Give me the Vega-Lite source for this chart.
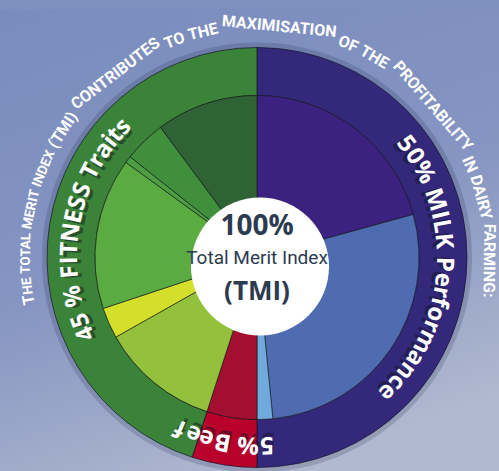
{
  "$schema": "https://vega.github.io/schema/vega-lite/v6.json",
  "autosize": {"type": "fit", "contains": "padding"},
  "width": 499,
  "height": 471,
  "padding": {"left": 0, "top": 0, "right": -15, "bottom": -35},
  "background": "#7d90be",
  "config": {"view": {"stroke": null}},
  "datasets": {
    "outer": [
      {"part": "MILK Performance", "value": 50, "k": 1},
      {"part": "Beef", "value": 5, "k": 2},
      {"part": "FITNESS Traits", "value": 45, "k": 3}
    ],
    "inner": [
      {"trait": "Milk 1", "value": 20.72, "k": 1},
      {"trait": "Milk 2", "value": 27.72, "k": 2},
      {"trait": "Milk 3", "value": 1.56, "k": 3},
      {"trait": "Beef", "value": 5, "k": 4},
      {"trait": "Fitness 1", "value": 11.83, "k": 5},
      {"trait": "Fitness 2", "value": 3.08, "k": 6},
      {"trait": "Fitness 3", "value": 15.08, "k": 7},
      {"trait": "Fitness 4", "value": 0.69, "k": 8},
      {"trait": "Fitness 5", "value": 4.17, "k": 9},
      {"trait": "Fitness 6", "value": 10.15, "k": 10}
    ],
    "whole": [{"value": 100}],
    "titleSmall": [
      {"w": "HE", "pos": 73.03},
      {"w": "TOTAL", "pos": 75.29},
      {"w": "MERIT", "pos": 78.34},
      {"w": "INDEX", "pos": 81.28}
    ],
    "titleLarge": [
      {"w": "T", "pos": 72.09},
      {"w": "(TMI)", "pos": 84.25},
      {"w": "CONTRIBUTES", "pos": 89.57},
      {"w": "TO", "pos": 94.23},
      {"w": "THE", "pos": 96.27},
      {"w": "MAXIMISATION", "pos": 1.525},
      {"w": "OF", "pos": 6.42},
      {"w": "THE", "pos": 8.43},
      {"w": "PROFITABILITY", "pos": 13.68},
      {"w": "IN", "pos": 18.44},
      {"w": "DAIRY", "pos": 20.83},
      {"w": "FARMING:", "pos": 25.22}
    ],
    "ring": [
      {"c": "5", "pos": 14.65}, {"c": "0", "pos": 15.91}, {"c": "%", "pos": 17.5},
      {"c": "M", "pos": 20.02}, {"c": "I", "pos": 21.38}, {"c": "L", "pos": 22.32}, {"c": "K", "pos": 23.6},
      {"c": "P", "pos": 25.58}, {"c": "e", "pos": 26.9}, {"c": "r", "pos": 27.96}, {"c": "f", "pos": 28.82},
      {"c": "o", "pos": 29.88}, {"c": "r", "pos": 30.99}, {"c": "m", "pos": 32.43}, {"c": "a", "pos": 34.04},
      {"c": "n", "pos": 35.36}, {"c": "c", "pos": 36.59}, {"c": "e", "pos": 37.75},
      {"c": "5", "pos": 49.17}, {"c": "%", "pos": 50.75}, {"c": "B", "pos": 52.92}, {"c": "e", "pos": 54.36},
      {"c": "e", "pos": 55.5}, {"c": "f", "pos": 56.72},
      {"c": "4", "pos": 68.36}, {"c": "5", "pos": 69.58}, {"c": "%", "pos": 71.69},
      {"c": "F", "pos": 73.79}, {"c": "I", "pos": 74.76}, {"c": "T", "pos": 75.72}, {"c": "N", "pos": 77.13},
      {"c": "E", "pos": 78.52}, {"c": "S", "pos": 79.7}, {"c": "S", "pos": 80.88},
      {"c": "T", "pos": 82.63}, {"c": "r", "pos": 83.68}, {"c": "a", "pos": 84.73}, {"c": "i", "pos": 85.64},
      {"c": "t", "pos": 86.37}, {"c": "s", "pos": 87.31}
    ],
    "centre": [{"t": "100%"}],
    "centre2": [{"t": "Total Merit Index"}],
    "centre3": [{"t": "(TMI)"}]
  },
  "resolve": {"scale": {"color": "independent"}},
  "layer": [
    {
      "data": {"name": "whole"},
      "mark": {"type": "rect", "color": {"gradient": "linear", "x1": 0, "y1": 0, "x2": 0.35, "y2": 1,
        "stops": [{"offset": 0, "color": "#798cbc"}, {"offset": 0.55, "color": "#8695c2"}, {"offset": 1, "color": "#b0b9cf"}]}},
      "encoding": {}
    },
    {
      "data": {"name": "whole"},
      "mark": {"type": "arc", "radius": 215, "fill": "#1c2448", "opacity": 0.18},
      "encoding": {"theta": {"field": "value", "type": "quantitative", "stack": true, "scale": {"domain": [0, 100]}}}
    },
    {
      "data": {"name": "outer"},
      "mark": {"type": "arc", "radius": 210, "radius2": 162, "stroke": "#15152a", "strokeWidth": 0.7},
      "encoding": {
        "theta": {"field": "value", "type": "quantitative", "stack": true, "scale": {"domain": [0, 100]}},
        "order": {"field": "k", "type": "quantitative"},
        "color": {"field": "part", "type": "nominal", "legend": null,
          "scale": {"domain": ["MILK Performance", "Beef", "FITNESS Traits"], "range": ["#33287a", "#b8022c", "#3b8339"]}}
      }
    },
    {
      "data": {"name": "inner"},
      "mark": {"type": "arc", "radius": 162, "stroke": "#141414", "strokeWidth": 0.6},
      "encoding": {
        "theta": {"field": "value", "type": "quantitative", "stack": true, "scale": {"domain": [0, 100]}},
        "order": {"field": "k", "type": "quantitative"},
        "color": {"field": "trait", "type": "nominal", "legend": null,
          "scale": {"domain": ["Milk 1", "Milk 2", "Milk 3", "Beef", "Fitness 1", "Fitness 2", "Fitness 3", "Fitness 4", "Fitness 5", "Fitness 6"],
            "range": ["#3c2280", "#4f6cb1", "#70aadd", "#a20f30", "#93c13c", "#d3df2b", "#5bab43", "#4b9f42", "#3f8f3d", "#2f6335"]}}
      }
    },
    {
      "data": {"name": "whole"},
      "mark": {"type": "arc", "radius": 69, "fill": "#ffffff", "xOffset": 3, "yOffset": 9},
      "encoding": {"theta": {"field": "value", "type": "quantitative", "stack": true, "scale": {"domain": [0, 100]}}}
    },
    {
      "data": {"name": "centre"},
      "mark": {"type": "text", "font": "Open Sans", "fontWeight": "bold", "fontSize": 28, "fill": "#2c3b50", "align": "center", "baseline": "middle", "dy": -31},
      "encoding": {"text": {"field": "t"}}
    },
    {
      "data": {"name": "centre2"},
      "mark": {"type": "text", "font": "Roboto", "fontSize": 19, "fill": "#2c3b50", "align": "center", "baseline": "middle", "dy": 0},
      "encoding": {"text": {"field": "t"}}
    },
    {
      "data": {"name": "centre3"},
      "mark": {"type": "text", "font": "Open Sans", "fontWeight": "bold", "fontSize": 26, "fill": "#2c3b50", "align": "center", "baseline": "middle", "dy": 34},
      "encoding": {"text": {"field": "t"}}
    },
    {
      "data": {"name": "titleSmall"},
      "mark": {"type": "text", "radius": 231, "font": "Roboto", "fontWeight": "bold", "fontSize": 13.5, "fill": "#ffffff", "align": "center", "baseline": "middle"},
      "encoding": {
        "text": {"field": "w"},
        "theta": {"field": "pos", "type": "quantitative", "stack": null, "scale": {"domain": [0, 100]}},
        "angle": {"field": "pos", "type": "quantitative", "scale": {"domain": [0, 100], "range": [0, 360]}, "legend": null}
      }
    },
    {
      "data": {"name": "titleLarge"},
      "mark": {"type": "text", "radius": 232, "font": "Roboto", "fontWeight": "bold", "fontSize": 16, "fill": "#ffffff", "align": "center", "baseline": "middle"},
      "encoding": {
        "text": {"field": "w"},
        "theta": {"field": "pos", "type": "quantitative", "stack": null, "scale": {"domain": [0, 100]}},
        "angle": {"field": "pos", "type": "quantitative", "scale": {"domain": [0, 100], "range": [0, 360]}, "legend": null}
      }
    },
    {
      "data": {"name": "ring"},
      "mark": {"type": "text", "radius": 185, "font": "Open Sans", "fontWeight": "bold", "fontSize": 24, "fill": "#10101e", "opacity": 0.45, "align": "center", "baseline": "middle", "dx": -1.5, "dy": 2},
      "encoding": {
        "text": {"field": "c"},
        "theta": {"field": "pos", "type": "quantitative", "stack": null, "scale": {"domain": [0, 100]}},
        "angle": {"field": "pos", "type": "quantitative", "scale": {"domain": [0, 100], "range": [0, 360]}, "legend": null}
      }
    },
    {
      "data": {"name": "ring"},
      "mark": {"type": "text", "radius": 187, "font": "Open Sans", "fontWeight": "bold", "fontSize": 24, "fill": "#ffffff", "align": "center", "baseline": "middle"},
      "encoding": {
        "text": {"field": "c"},
        "theta": {"field": "pos", "type": "quantitative", "stack": null, "scale": {"domain": [0, 100]}},
        "angle": {"field": "pos", "type": "quantitative", "scale": {"domain": [0, 100], "range": [0, 360]}, "legend": null}
      }
    }
  ]
}
